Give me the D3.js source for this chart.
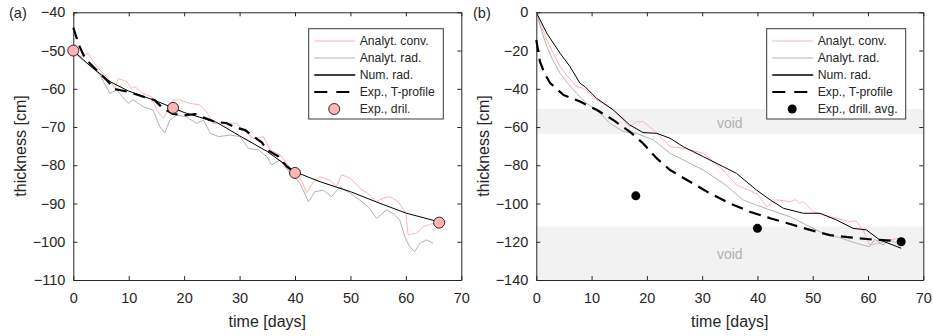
<!DOCTYPE html>
<html>
<head>
<meta charset="utf-8">
<script src="https://cdn.jsdelivr.net/npm/d3@7"></script>
<style>
  body { margin: 0; background: #fff; }
  svg { font-family: Arial, "Liberation Sans", sans-serif; }
</style>
</head>
<body>
<div id="chart"></div>
<script>
// ---- panel (a) data: [day, thickness cm] ----
var aConv = [[0,-50],[1.2,-51.6],[2.7,-50.7],[3.6,-52.9],[4.8,-55.1],[6,-56.8],[7.5,-59.9],[8.1,-57.3],[9.6,-58.1],[10.5,-59.9],[11.1,-59.4],[12.6,-61.2],[14.1,-62.1],[15,-65.5],[16.2,-67.7],[16.8,-66.4],[18,-62.9],[19.2,-62.9],[21,-63.8],[22.8,-64.2],[24,-66],[25.3,-69],[27.7,-69],[29.5,-69],[31.3,-71.6],[32.5,-73],[34.3,-72.5],[35.5,-76],[37.3,-77.3],[39,-80.4],[40.9,-83],[42.1,-87.3],[43.3,-84.3],[44.5,-83],[46.3,-83.9],[47.5,-85.6],[48.4,-82.5],[50,-83.4],[51.7,-86],[53.5,-87.8],[54.7,-89.5],[55.9,-88.6],[57.1,-88.2],[58.6,-89.5],[60,-92.6],[60.4,-98.2],[61.9,-97.8],[63.1,-96.1],[64.9,-95.2],[65.5,-95.6]];
var aRad = [[0,-50],[1.2,-52],[3,-53.8],[4.8,-56.4],[6.6,-61.2],[7.8,-60.3],[9.9,-63.8],[10.8,-62.9],[12.6,-64.7],[14.4,-65.5],[15.6,-69.9],[16.5,-71.6],[17.4,-68.2],[18.6,-66.9],[20.4,-67.3],[22.2,-69],[23.5,-68.2],[24.7,-71.6],[26.2,-72.5],[28.3,-72.1],[30.1,-72.5],[31.6,-75.6],[33.4,-76],[34.9,-77.7],[35.8,-79.9],[37.3,-78.6],[39.1,-82.1],[40.9,-84.7],[42.4,-89.5],[43.6,-86.9],[45.1,-86.5],[46.6,-88.2],[48.1,-85.6],[49.9,-87.3],[51.7,-89.1],[53.5,-91.3],[54.7,-93.9],[56.5,-91.7],[57.7,-92.6],[58.9,-94.3],[59.8,-98.7],[60.7,-101.3],[61.6,-102.6],[62.5,-100.4],[63.7,-99.5],[64.9,-100.4]];
var aNum = [[0,-50],[3,-54],[6.6,-58.1],[10,-60.6],[15,-63.2],[20,-66.2],[25.9,-68.8],[30,-72.3],[35,-76.4],[40,-81.7],[44.5,-84.3],[50,-86.9],[54.7,-89.6],[60,-92.5],[66,-94.8]];
var aExp = [[0,-44],[1,-48.5],[2.1,-52],[4,-54.8],[6,-57.7],[7.5,-60.1],[10,-60.8],[12.5,-62],[14.7,-63],[16,-64.9],[18,-66.6],[20.4,-66.9],[22,-66.6],[24,-67.8],[25.5,-68.6],[27.7,-69],[29,-70],[31,-70.8],[32.5,-72.5],[34,-74],[35,-76],[37,-77.7],[38.5,-80.3],[40,-82]];
var aDril = [[0,-50],[18,-65],[40,-82],[66,-95]];

// ---- panel (b) data ----
var bConv = [[0,0],[1,-8],[2,-15],[3,-21],[4.3,-28.4],[5.5,-33],[7.3,-38.9],[8.5,-39.7],[10.9,-45.8],[13.9,-51],[16.9,-59.8],[18.1,-57.2],[19.3,-57.2],[21.2,-61.5],[24.2,-70.3],[26.6,-71.1],[30.2,-73.7],[33.8,-82.5],[36.2,-90.3],[39.8,-94.7],[41.7,-101.6],[43.5,-98.1],[45.9,-99],[46.8,-98],[47.6,-100],[48.3,-99],[50.1,-104.3],[53.1,-106.9],[55.5,-108.6],[56.7,-109.5],[57.8,-109],[59.1,-113.8],[60.3,-121.7],[62.1,-120.8],[63.9,-119],[65.8,-118.2]];
var bRad = [[0,0],[1,-10],[1.9,-18],[3,-25],[4.3,-31.9],[5.8,-37.5],[7.3,-42.4],[9.1,-47.6],[10.9,-51],[13.3,-58],[15.7,-62.4],[18.1,-63.3],[21.2,-66.8],[24.2,-73.7],[27.8,-79],[30.2,-82.5],[33.8,-89.4],[37.4,-98.1],[39.8,-100.8],[42.3,-103.4],[45.9,-106.9],[48.3,-110.4],[51.9,-115.6],[54.3,-117.3],[57.9,-120.8],[60.3,-122.6],[61.2,-118.7],[62.7,-121.7],[63.9,-119],[65.2,-120.8]];
var bNum = [[0,0],[1.9,-11],[4.3,-21.4],[6.1,-28.4],[7.9,-37.1],[8.8,-38.9],[10.9,-45],[13.9,-51],[16.9,-58.9],[19.3,-62.9],[21.8,-63.3],[24.2,-65.9],[26.6,-70.3],[30.2,-75.5],[33.8,-80.7],[36.2,-84.2],[39.8,-92.9],[42.3,-98.1],[44.7,-102.5],[48.3,-105.1],[51.3,-105.1],[54.3,-108.6],[57.3,-113],[59.7,-113.8],[62.1,-119],[66,-123.4]];
var bExp = [[0,-14.5],[0.66,-25.8],[1.5,-32],[2.5,-37],[4.9,-43.2],[7.9,-46.7],[10.9,-51],[13.9,-56.3],[16.9,-62.4],[19.3,-68.5],[21.8,-76.4],[24.2,-82.5],[27.8,-88.6],[31.4,-94.7],[35,-99.9],[38.6,-104.3],[42.3,-107.7],[45.9,-110.7],[49.5,-113.8],[53.1,-116.5],[56.7,-117.7],[60.3,-118.7],[64.5,-119.5]];
var bDril = [[18,-96],[40,-113],[66,-120]];
var bVoids = [[-50.6,-63.6],[-112,-140]];
var bVoidLabels = [[35,-57.7],[35,-126.6]];

var xTicks = [0,10,20,30,40,50,60,70];
var aYTicks = [-40,-50,-60,-70,-80,-90,-100,-110];
var bYTicks = [0,-20,-40,-60,-80,-100,-120,-140];

var PINK = "#ffb3b3", GREY = "#b3b3b3", AX = "#262626";

var svg = d3.select("#chart").append("svg")
  .attr("width", 933).attr("height", 336);

function drawPanel(cfg) {
  var x = d3.scaleLinear().domain([0,70]).range([cfg.left, cfg.right]);
  var y = d3.scaleLinear().domain(cfg.ydom).range([280, 12.3]);
  var g = svg.append("g");
  var line = d3.line().x(function(d){return x(d[0]);}).y(function(d){return y(d[1]);});

  // void bands
  (cfg.voids || []).forEach(function(v){
    g.append("rect").attr("x", x(0)).attr("width", x(70)-x(0))
      .attr("y", y(v[0])).attr("height", y(v[1])-y(v[0]))
      .style("fill", "#f2f2f2");
  });
  (cfg.voidLabels || []).forEach(function(v){
    g.append("text").attr("x", x(v[0])).attr("y", y(v[1]))
      .attr("text-anchor","middle").attr("dominant-baseline","central")
      .style("font-size","14px").style("fill","#b0b0b0").text("void");
  });

  // axes with inward ticks, box
  var tl = 4;
  g.append("g").attr("transform","translate(0,"+y(cfg.ydom[0])+")")
    .call(d3.axisBottom(x).tickValues(xTicks).tickSizeInner(-tl).tickSizeOuter(0).tickPadding(13));
  g.append("g").attr("transform","translate(0,"+y(cfg.ydom[1])+")")
    .call(d3.axisTop(x).tickValues(xTicks).tickSizeInner(-tl).tickSizeOuter(0).tickFormat(""));
  g.append("g").attr("transform","translate("+x(0)+",0)")
    .call(d3.axisLeft(y).tickValues(cfg.yticks).tickSizeInner(-tl).tickSizeOuter(0).tickPadding(8));
  g.append("g").attr("transform","translate("+x(70)+",0)")
    .call(d3.axisRight(y).tickValues(cfg.yticks).tickSizeInner(-tl).tickSizeOuter(0).tickFormat(""));
  g.selectAll(".domain").style("stroke", AX);
  g.selectAll(".tick line").style("stroke", AX);
  g.selectAll(".tick text").style("font-size","14.5px").style("fill", AX)
    .style("font-family","Arial, 'Liberation Sans', sans-serif");

  // series
  var pl = g.append("g");
  pl.append("path").datum(cfg.conv).attr("d", line)
    .style("fill","none").style("stroke", PINK).style("stroke-width",1);
  pl.append("path").datum(cfg.rad).attr("d", line)
    .style("fill","none").style("stroke", GREY).style("stroke-width",1);
  pl.append("path").datum(cfg.exp).attr("d", line)
    .style("fill","none").style("stroke","#000").style("stroke-width",2.2)
    .style("stroke-dasharray","12,7");
  pl.append("path").datum(cfg.num).attr("d", line)
    .style("fill","none").style("stroke","#000").style("stroke-width",1);
  pl.selectAll("circle").data(cfg.dril).enter().append("circle")
    .attr("cx", function(d){return x(d[0]);}).attr("cy", function(d){return y(d[1]);})
    .attr("r", cfg.drilFill === "#000" ? 4.5 : 5.5)
    .style("fill", cfg.drilFill).style("stroke", "#000").style("stroke-width", cfg.drilFill === "#000" ? 0 : 0.8);

  // labels
  g.append("text").attr("x", (x(0)+x(70))/2).attr("y", 327)
    .attr("text-anchor","middle").style("font-size","16px").style("fill", AX).text("time [days]");
  g.append("text").attr("transform","translate("+cfg.ylabX+",146) rotate(-90)")
    .attr("text-anchor","middle").attr("dominant-baseline","central")
    .style("font-size","16px").style("fill", AX).text("thickness [cm]");
  g.append("text").attr("x", cfg.tagX).attr("y", 18)
    .style("font-size","14.5px").style("fill", AX).text(cfg.tag);

  // legend
  var lg = g.append("g").attr("transform","translate("+cfg.legX+",28.7)");
  lg.append("rect").attr("width", cfg.legW).attr("height", 90.3)
    .style("fill","#fff").style("stroke", "#3a3a3a").style("stroke-width",1);
  var items = [
    {t:"Analyt. conv.", c:PINK, w:1},
    {t:"Analyt. rad.", c:GREY, w:1},
    {t:"Num. rad.", c:"#000", w:1.5},
    {t:"Exp., T-profile", c:"#000", w:2.2, dash:"13,9", x2:41},
    {t:cfg.drilLabel, marker:true}
  ];
  items.forEach(function(it, i){
    var yy = 12.3 + 17*i;
    if (it.marker) {
      lg.append("circle").attr("cx", 25.5).attr("cy", yy)
        .attr("r", cfg.drilFill === "#000" ? 4.5 : 5.5)
        .style("fill", cfg.drilFill).style("stroke","#000")
        .style("stroke-width", cfg.drilFill === "#000" ? 0 : 0.8);
    } else {
      lg.append("line").attr("x1", 5.6).attr("x2", it.x2 || 46.5).attr("y1", yy).attr("y2", yy)
        .style("stroke", it.c).style("stroke-width", it.w)
        .style("stroke-dasharray", it.dash || null);
    }
    lg.append("text").attr("x", 51).attr("y", yy).attr("dominant-baseline","central")
      .style("font-size","12.2px").style("fill", AX).text(it.t);
  });
}

drawPanel({left:73.3, right:461.3, ydom:[-110,-40], yticks:aYTicks,
  conv:aConv, rad:aRad, num:aNum, exp:aExp, dril:aDril, drilFill:PINK,
  drilLabel:"Exp., dril.", legX:308.7, legW:134.6, ylabX:20, tagX:9, tag:"(a)"});
drawPanel({left:536.3, right:923.3, ydom:[-140,0], yticks:bYTicks,
  conv:bConv, rad:bRad, num:bNum, exp:bExp, dril:bDril, drilFill:"#000",
  drilLabel:"Exp., drill. avg.", legX:766.7, legW:139, ylabX:483.5, tagX:473, tag:"(b)",
  voids:bVoids, voidLabels:bVoidLabels});
</script>
</body>
</html>
